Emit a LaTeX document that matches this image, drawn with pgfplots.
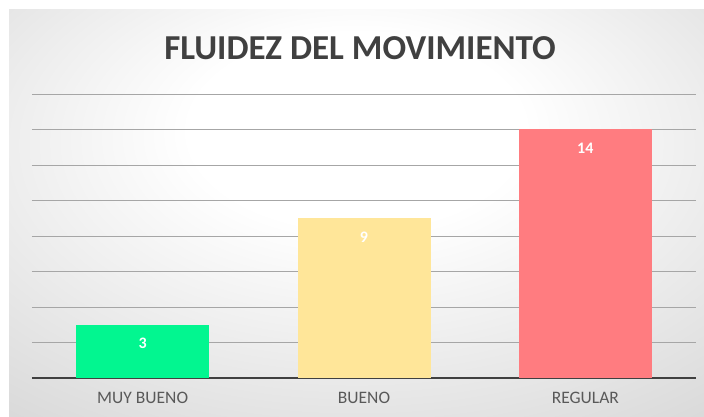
\documentclass[border=0pt]{standalone}
\usepackage{pgfplots}
\pgfplotsset{compat=1.18}
\usepackage{fontspec}
\setmainfont{Carlito}
\definecolor{cgreen}{HTML}{02F690}
\definecolor{cyellow}{HTML}{FFE699}
\definecolor{cred}{HTML}{FF7C80}
\definecolor{gridc}{HTML}{A6A6A6}
\definecolor{axisc}{HTML}{404040}
\definecolor{tickc}{HTML}{595959}
\definecolor{ttl}{HTML}{404040}
\pgfdeclareradialshading{bgshade}{\pgfpoint{0bp}{12bp}}{color(0bp)=(white); color(12bp)=(white); color(50bp)=(black!20); color(80bp)=(black!25)}
\begin{document}
\begin{tikzpicture}[x=1pt,y=1pt]
\path[use as bounding box, fill=white] (0,0) rectangle (704,417);
\shade[shading=bgshade] (9,0) rectangle (704,407);
\node[font=\bfseries\fontsize{35}{40}\selectfont, text=ttl] at (360,369) {FLUIDEZ DEL MOVIMIENTO};
\begin{axis}[
  at={(32pt,39pt)}, anchor=south west,
  scale only axis, width=664pt, height=284pt,
  ybar, bar width=133pt,
  xmin=-0.5, xmax=2.5, ymin=0, ymax=16,
  xtick={0,1,2}, xticklabels={MUY BUENO, BUENO, REGULAR},
  ytick={0,2,...,16}, yticklabels={},
  xmajorgrids=false, ymajorgrids=true,
  major grid style={draw=gridc, line width=0.9pt},
  axis lines*=left,
  y axis line style={draw=none},
  x axis line style={draw=axisc, line width=1.6pt, -},
  major tick length=0pt,
  tick label style={font=\fontsize{17.5}{20}\selectfont, text=tickc},
  xticklabel style={yshift=-11pt},
  /pgf/number format/assume math mode=true,
  nodes near coords,
  every node near coord/.append style={font=\bfseries\fontsize{16}{18}\selectfont, text=white, anchor=north, yshift=-10pt},
]
\addplot[fill=cgreen, draw=none, bar shift=0pt] coordinates {(0,3)};
\addplot[fill=cyellow, draw=none, bar shift=0pt] coordinates {(1,9)};
\addplot[fill=cred, draw=none, bar shift=0pt] coordinates {(2,14)};
\end{axis}
\end{tikzpicture}
\end{document}
